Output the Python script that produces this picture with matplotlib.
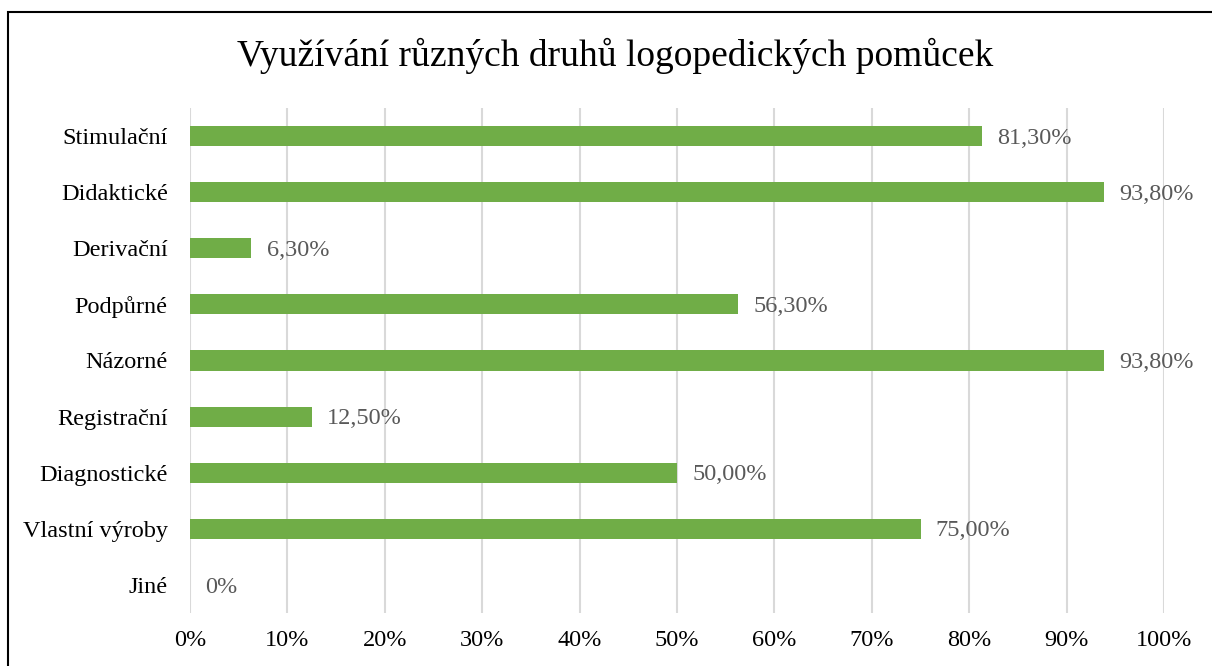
import matplotlib
matplotlib.use("Agg")
import matplotlib.pyplot as plt
from matplotlib.patches import Rectangle

categories = ["Stimulační", "Didaktické", "Derivační", "Podpůrné", "Názorné",
              "Registrační", "Diagnostické", "Vlastní výroby", "Jiné"]
values = [81.3, 93.8, 6.3, 56.3, 93.8, 12.5, 50.0, 75.0, 0.0]
value_labels = ["81,30%", "93,80%", "6,30%", "56,30%", "93,80%",
                "12,50%", "50,00%", "75,00%", "0%"]
xticks = list(range(0, 101, 10))
xtick_labels = [f"{t}%" for t in xticks]
title = "Využívání různých druhů logopedických pomůcek"

plt.rcParams['font.family'] = ['Liberation Serif', 'DejaVu Serif']

W, H = 1212, 666
fig = plt.figure(figsize=(W/100, H/100), dpi=100)
ax = fig.add_axes([190/W, 1-613/H, (1164-190)/W, (613-108)/H])

n = len(categories)
ypos = list(range(n))
ax.barh(ypos, values, height=0.36, color="#70AD47", zorder=3)
ax.set_ylim(n-0.5, -0.5)
ax.set_xlim(0, 100)
ax.set_xticks(xticks)
ax.set_xticklabels(xtick_labels, fontsize=17.5, color="#000000")
ax.set_yticks(ypos)
ax.set_yticklabels(categories, fontsize=17.5, color="#000000")
ax.tick_params(axis='both', length=0)
ax.tick_params(axis='x', pad=12)
ax.tick_params(axis='y', pad=16)
ax.grid(axis='x', color="#D9D9D9", linewidth=1.5, zorder=0)
for s in ax.spines.values():
    s.set_visible(False)

for y, v, lab in zip(ypos, values, value_labels):
    ax.annotate(lab, (v, y), xytext=(11, -1.5), textcoords='offset points',
                va='center', ha='left', fontsize=17.5, color="#595959")

fig.text(615/W, 1-56/H, title, ha='center', va='center', fontsize=27, color="#000000")

fig.patches.append(Rectangle((8/W, -0.1), 1.2, 1-12/H+0.1, transform=fig.transFigure,
                             fill=False, edgecolor='black', linewidth=1.5))

fig.savefig("out.png", dpi=100)
